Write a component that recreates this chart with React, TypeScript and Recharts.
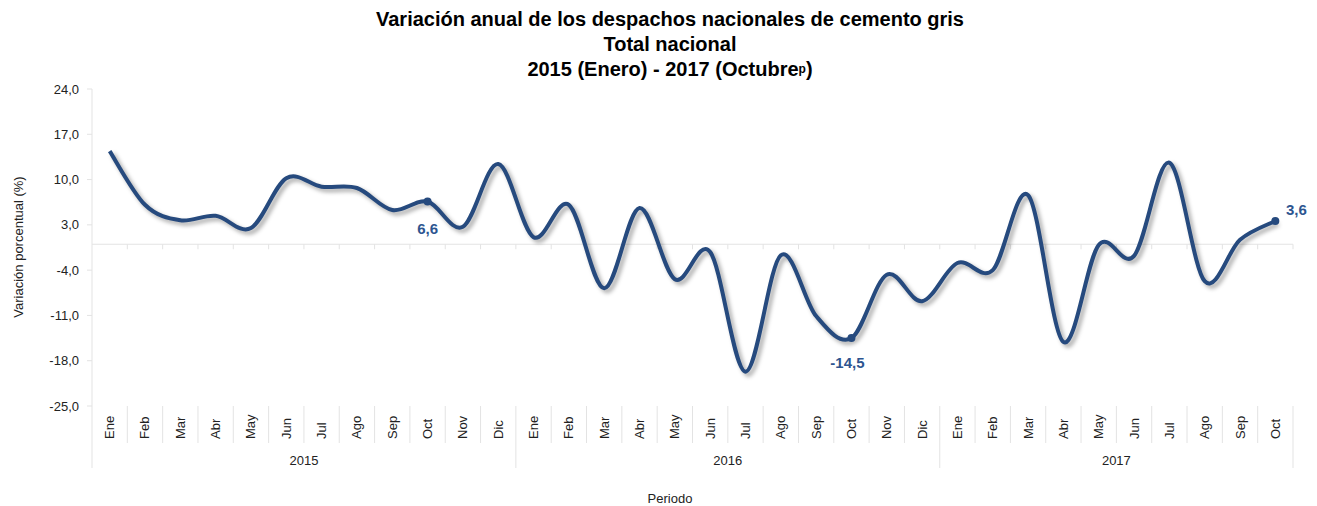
import { Line, LineChart, ReferenceLine, XAxis, YAxis } from "recharts";

const months = ["Ene", "Feb", "Mar", "Abr", "May", "Jun", "Jul", "Ago", "Sep", "Oct", "Nov", "Dic"];
const years = ["2015", "2016", "2017"];
const variation2015 = [14.4, 6.1, 3.7, 4.4, 2.5, 10.2, 8.9, 8.7, 5.3, 6.6, 2.7, 12.4];
const variation2016 = [1.1, 6.1, -6.8, 5.6, -5.4, -1.2, -19.7, -1.7, -11.1, -14.5, -4.7, -8.8];
const variation2017 = [-2.9, -4.0, 7.6, -15.1, -0.1, -1.8, 12.6, -5.7, 0.7, 3.6];
const yTicks = [-25, -18, -11, -4, 3, 10, 17, 24];
const labelled = [9, 21, 33];

const BLUE = "#264a7e";
const GRID = "#e3e3e3";
const FONT = "'Liberation Sans', Arial, sans-serif";

const data = [variation2015, variation2016, variation2017].flatMap((vals, y) =>
  vals.map((v, m) => ({ idx: y * 12 + m, month: months[m], year: years[y], value: v }))
);
const N = data.length;

const fmt = (v: number) => v.toFixed(1).replace(".", ",");

// Excel-like smoothing (Catmull-Rom as bezier)
const excelCurve = (context: any) => {
  let pts: [number, number][] = [];
  return {
    areaStart() {},
    areaEnd() {},
    lineStart() {
      pts = [];
    },
    point(x: number, y: number) {
      pts.push([+x, +y]);
    },
    lineEnd() {
      if (!pts.length) return;
      context.moveTo(pts[0][0], pts[0][1]);
      for (let i = 0; i < pts.length - 1; i++) {
        const p0 = pts[i - 1] || pts[i];
        const p1 = pts[i];
        const p2 = pts[i + 1];
        const p3 = pts[i + 2] || p2;
        context.bezierCurveTo(
          p1[0] + (p2[0] - p0[0]) / 6,
          p1[1] + (p2[1] - p0[1]) / 6,
          p2[0] - (p3[0] - p1[0]) / 6,
          p2[1] - (p3[1] - p1[1]) / 6,
          p2[0],
          p2[1]
        );
      }
    },
  };
};

const MonthTick = (props: any) => {
  const { x, y, payload } = props;
  const i = payload.index as number;
  const step = 1201 / N;
  const left = x - step / 2;
  const d = data[i];
  const yearStart = i % 12 === 0;
  return (
    <g>
      <line x1={left} x2={left} y1={y} y2={yearStart ? y + 62 : y + 37} stroke={GRID} />
      {i === N - 1 && <line x1={left + step} x2={left + step} y1={y} y2={y + 62} stroke={GRID} />}
      <text
        x={x}
        y={y + 33}
        transform={`rotate(-90 ${x} ${y + 33})`}
        textAnchor="start"
        dominantBaseline="central"
        fontSize={13}
        fontFamily={FONT}
        fill="#222"
      >
        {d.month}
      </text>
      {yearStart && (
        <text
          x={left + (Math.min(12, N - i) * step) / 2}
          y={y + 54}
          textAnchor="middle"
          dominantBaseline="central"
          fontSize={13}
          fontFamily={FONT}
          fill="#222"
        >
          {d.year}
        </text>
      )}
    </g>
  );
};

const ZeroLine = (props: any) => {
  const { x1, x2, y1 } = props;
  const step = (x2 - x1) / N;
  return (
    <g>
      <line x1={x1} x2={x2} y1={y1} y2={y1} stroke={GRID} strokeWidth={1} />
      {data.map((_, i) => (
        <line key={i} x1={x1 + (i + 1) * step} x2={x1 + (i + 1) * step} y1={y1} y2={y1 + 5} stroke={GRID} />
      ))}
    </g>
  );
};

const Dot = (props: any) => {
  const { cx, cy, index } = props;
  if (!labelled.includes(index)) return <g key={index} />;
  return <circle key={index} cx={cx} cy={cy} r={4} fill={BLUE} />;
};

const ValueLabel = (props: any) => {
  const { x, y, index, value } = props;
  if (!labelled.includes(index)) return null;
  let dx = 0;
  let dy = 27;
  if (index === N - 1) {
    dx = 21;
    dy = -11;
  } else if (index === 21) {
    dx = -4;
    dy = 24;
  }
  return (
    <text
      x={x + dx}
      y={y + dy}
      textAnchor="middle"
      dominantBaseline="central"
      fontSize={15}
      fontWeight="bold"
      fontFamily={FONT}
      fill="#2d5590"
    >
      {fmt(value)}
    </text>
  );
};

export default function App() {
  return (
    <div style={{ position: "absolute", left: 0, top: 0, width: 1317, height: 506, fontFamily: FONT, background: "#fff" }}>
      <style>{`.shadow-line path { filter: drop-shadow(3px 3px 2px rgba(0,0,0,0.35)); }`}</style>
      <div
        style={{
          position: "absolute",
          left: 0,
          top: 7,
          width: 1340,
          textAlign: "center",
          fontWeight: "bold",
          fontSize: 20,
          lineHeight: "25px",
          color: "#000",
        }}
      >
        <div>Variación anual de los despachos nacionales de cemento gris</div>
        <div>Total nacional</div>
        <div>
          2015 (Enero) - 2017 (Octubre<span style={{ fontSize: 12, verticalAlign: "3px" }}>p</span>)
        </div>
      </div>
      <div
        style={{
          position: "absolute",
          left: 18,
          top: 247,
          transform: "translate(-50%, -50%) rotate(-90deg)",
          fontSize: 13,
          whiteSpace: "nowrap",
          color: "#222",
        }}
      >
        Variación porcentual (%)
      </div>
      <div
        style={{
          position: "absolute",
          left: 670,
          top: 498,
          transform: "translate(-50%, -50%)",
          fontSize: 13,
          color: "#222",
        }}
      >
        Periodo
      </div>
      <LineChart
        width={1317}
        height={506}
        data={data}
        margin={{ top: 89, right: 24, bottom: 0, left: 0 }}
        style={{ position: "absolute", left: 0, top: 0 }}
      >
        <XAxis
          dataKey="idx"
          type="category"
          scale="band"
          height={100}
          axisLine={false}
          tickLine={false}
          tickSize={0}
          tickMargin={0}
          interval={0}
          tick={<MonthTick />}
        />
        <YAxis
          width={92}
          domain={[-25, 24]}
          ticks={yTicks}
          tickFormatter={fmt}
          axisLine={{ stroke: GRID }}
          tickLine={{ stroke: GRID }}
          tickSize={5}
          tickMargin={8}
          tick={{ fontSize: 13, fill: "#222", fontFamily: FONT }}
          allowDataOverflow
        />
        <ReferenceLine y={0} shape={<ZeroLine />} />
        <Line
          className="shadow-line"
          dataKey="value"
          type={excelCurve as any}
          stroke={BLUE}
          strokeWidth={4}
          dot={<Dot />}
          activeDot={false}
          label={<ValueLabel />}
          isAnimationActive={false}
        />
      </LineChart>
    </div>
  );
}
